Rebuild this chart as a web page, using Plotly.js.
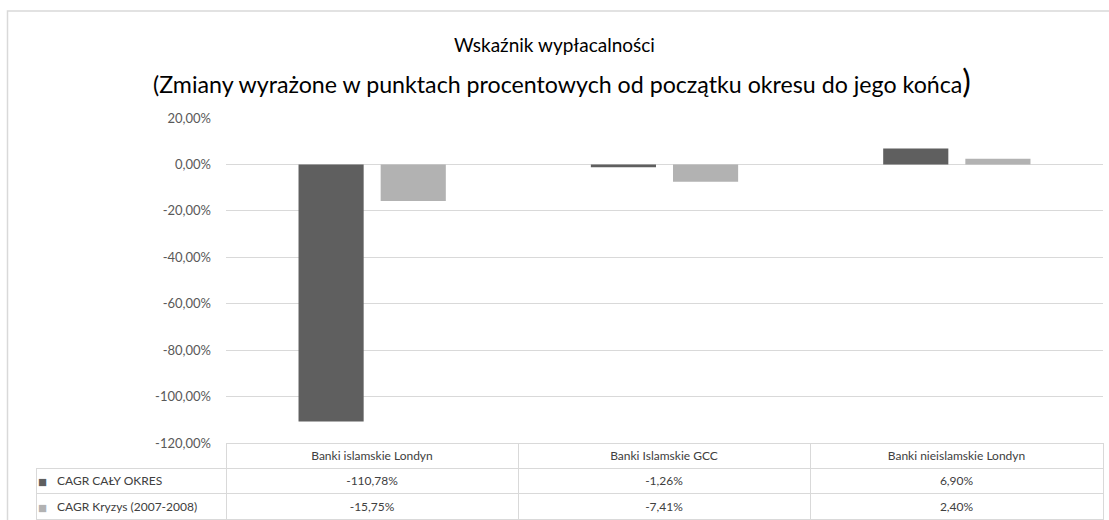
<!DOCTYPE html>
<html>
<head>
<meta charset="utf-8">
<script src="https://cdn.plot.ly/plotly-3.0.1.min.js"></script>
<style>
html,body{margin:0;padding:0;background:#fff;}
#chart{width:1109px;height:520px;}
</style>
</head>
<body>
<div id="chart"></div>
<script>
// ---- data ----
const categories = ['Banki islamskie Londyn', 'Banki Islamskie GCC', 'Banki nieislamskie Londyn'];
const seriesNames = ['CAGR CAŁY OKRES', 'CAGR Kryzys (2007-2008)'];
const seriesWhole = [-110.78, -1.26, 6.90];
const seriesCrisis = [-15.75, -7.41, 2.40];
const tickValues = [20, 0, -20, -40, -60, -80, -100, -120];
const tickLabels = ['20,00%', '0,00%', '-20,00%', '-40,00%', '-60,00%', '-80,00%', '-100,00%', '-120,00%'];
const titleLine1 = 'Wskaźnik wypłacalności';
const titleLine2 = '(Zmiany wyrażone w punktach procentowych od początku okresu do jego końca';

// ---- styles ----
const W = 1109, H = 520;
const FONT = 'Lato, "Liberation Sans", sans-serif';
const colors = ['#5f5f5f', '#b2b2b2'];
const grid = '#d9d9d9';
const NONE = 'rgba(0,0,0,0)';
const NB = '\u00a0';
const fmt = v => v.toFixed(2).replace('.', ',') + '%';

const px = x => x / W;
const py = y => 1 - y / H;

const barWhole = {
  type: 'bar', x: categories, y: seriesWhole, name: seriesNames[0],
  marker: {color: colors[0]}, hoverinfo: 'skip', xaxis: 'x', yaxis: 'y'
};
const barCrisis = {
  type: 'bar', x: categories, y: seriesCrisis, name: seriesNames[1],
  marker: {color: colors[1]}, hoverinfo: 'skip', xaxis: 'x', yaxis: 'y'
};

const tableDomainY = [0, py(443)];

// grid table: header with category names, value rows; first column holds the borders only
const dataTable = {
  type: 'table',
  domain: {x: [px(36), px(1103)], y: tableDomainY},
  columnwidth: [190, 292, 292, 293],
  header: {
    values: [''].concat(categories),
    align: ['left', 'center', 'center', 'center'],
    height: 25,
    line: {color: [NONE, grid, grid, grid], width: 1},
    fill: {color: [NONE, '#ffffff', '#ffffff', '#ffffff']},
    font: {family: FONT, size: 12, color: '#404040'}
  },
  cells: {
    values: [seriesNames.map(() => ''),
             [fmt(seriesWhole[0]), fmt(seriesCrisis[0])],
             [fmt(seriesWhole[1]), fmt(seriesCrisis[1])],
             [fmt(seriesWhole[2]), fmt(seriesCrisis[2])]],
    align: ['left', 'center', 'center', 'center'],
    height: 25.5,
    line: {color: grid, width: 1},
    fill: {color: '#ffffff'},
    font: {family: FONT, size: 12, color: '#404040'}
  }
};

// legend keys (coloured squares) + series names laid over the first table column
const keyTable = {
  type: 'table',
  domain: {x: [px(36), px(226)], y: tableDomainY},
  columnwidth: [13, 177],
  header: {
    values: ['', ''], height: 25,
    line: {color: NONE, width: 0}, fill: {color: NONE},
    font: {family: FONT, size: 12, color: NONE}
  },
  cells: {
    values: [seriesNames.map(() => '■'), seriesNames.map(n => n.replace(/ /g, NB))],
    align: ['center', 'left'], height: 25.5,
    line: {color: NONE, width: 0}, fill: {color: NONE},
    font: {family: FONT, size: [15, 12], color: [colors, '#404040']}
  }
};

const layout = {
  width: W, height: H,
  margin: {l: 0, r: 0, t: 0, b: 0},
  paper_bgcolor: '#ffffff', plot_bgcolor: '#ffffff',
  showlegend: false,
  barmode: 'group', bargap: 0.438, bargroupgap: 0.207,
  font: {family: FONT, color: '#595959'},
  title: {
    text: titleLine1,
    x: 0.5, xanchor: 'center', y: py(45), yanchor: 'middle',
    font: {family: FONT, size: 19, color: '#000000'}
  },
  annotations: [{
    text: titleLine2 + '<span style="font-size:32px">)</span>',
    xref: 'paper', yref: 'paper', x: px(562), y: py(80), xanchor: 'center', yanchor: 'middle',
    showarrow: false, font: {family: FONT, size: 23.2, color: '#000000'}
  }],
  xaxis: {
    domain: [px(226), px(1103)], showticklabels: false, showgrid: false,
    zeroline: false, showline: false, ticks: '', fixedrange: true
  },
  yaxis: {
    domain: [py(443), py(118)], range: [-120, 20],
    tickmode: 'array', tickvals: tickValues, ticktext: tickLabels,
    showgrid: true, gridcolor: grid, gridwidth: 1,
    zeroline: false, showline: false, ticks: '',
    ticklabelstandoff: 14, automargin: false,
    tickfont: {family: FONT, size: 13, color: '#595959'}, fixedrange: true
  },
  shapes: [{
    type: 'rect', xref: 'paper', yref: 'paper',
    x0: px(7.5), x1: 1.2, y0: -0.2, y1: py(11),
    line: {color: grid, width: 1.5}, layer: 'below'
  }]
};

Plotly.newPlot('chart', [barWhole, barCrisis, dataTable, keyTable], layout, {displayModeBar: false, staticPlot: true});
</script>
</body>
</html>
